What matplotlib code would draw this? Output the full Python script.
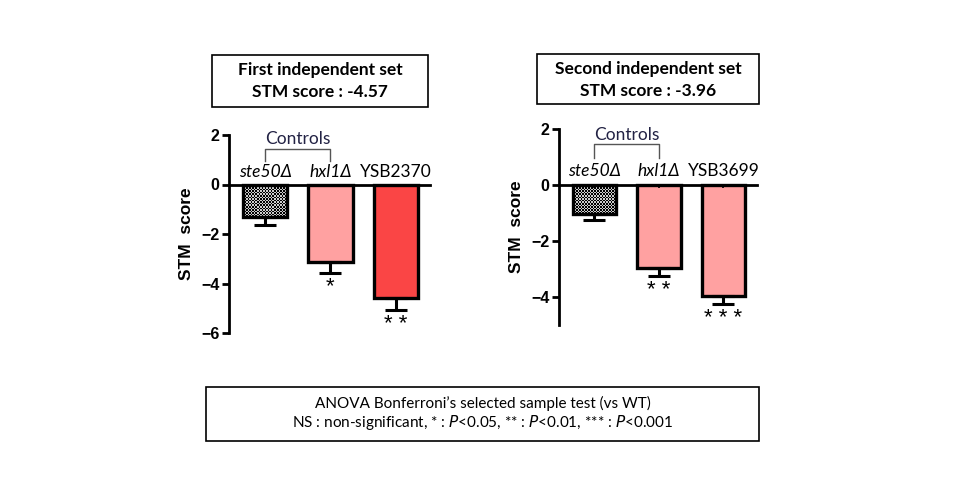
import numpy as np
import matplotlib
matplotlib.use('Agg')
import matplotlib.pyplot as plt
from matplotlib.patches import Rectangle

# ─────────────────────────────────────────
# DATA
# ─────────────────────────────────────────

STRAINS_1 = ['ste50Δ', 'hxl1Δ', 'YSB2370']
SCORES_1 = [-1.33, -3.15, -4.57]
ERRORS_1 = [0.29, 0.41, 0.52]
STARS_1 = ['', '*', '**']

STRAINS_2 = ['ste50Δ', 'hxl1Δ', 'YSB3699']
SCORES_2 = [-1.04, -2.98, -3.96]
ERRORS_2 = [0.20, 0.27, 0.28]
STARS_2 = ['', '**', '***']

ITALIC = [True, True, False]

TITLE_1 = 'First independent set\nSTM score : -4.57'
TITLE_2 = 'Second independent set\nSTM score : -3.96'
FOOTNOTE_1 = 'ANOVA Bonferroni\u2019s selected sample test (vs WT)'

PINK = '#FFA1A1'
RED = '#FA4545'
COLORS_1 = [None, PINK, RED]
COLORS_2 = [None, PINK, PINK]

CAL = 'Lato'
ARIAL = 'Liberation Sans'

W, H = 960, 500
fig = plt.figure(figsize=(W / 100, H / 100), dpi=100)


def px_box(x0, y0, x1, y1):
    # pixel box (top-left origin) -> figure fraction [l, b, w, h]
    return [x0 / W, 1 - y1 / H, (x1 - x0) / W, (y1 - y0) / H]


def checker_fill(ax, x, width, height):
    # GraphPad-style checkerboard fill clipped to the bar
    bar = Rectangle((x - width / 2, 0), width, height, transform=ax.transData)
    p0 = ax.transData.transform((x - width / 2, 0))
    p1 = ax.transData.transform((x + width / 2, height))
    nx = max(2, int(abs(p1[0] - p0[0]) / 1.5))
    ny = max(2, int(abs(p1[1] - p0[1]) / 1.5))
    board = (np.add.outer(np.arange(ny), np.arange(nx)) % 2).astype(float)
    im = ax.imshow(board, cmap='gray', extent=(x - width / 2, x + width / 2, height, 0),
                   aspect='auto', interpolation='nearest', zorder=2, vmin=0, vmax=1.25)
    im.set_clip_path(bar)


def draw_panel(rect, strains, scores, errors, stars, colors, ylim, yticks):
    ax = fig.add_axes(rect)
    x = np.arange(len(strains))
    width = 0.68
    ax.set_xlim(-0.55, 2.52)
    ax.set_ylim(*ylim)

    for xi, val, col in zip(x, scores, colors):
        if col is None:
            checker_fill(ax, xi, width, val)
            ax.bar(xi, val, width, color='none', edgecolor='black', linewidth=2.4, zorder=3)
        else:
            ax.bar(xi, val, width, color=col, edgecolor='black', linewidth=2.4, zorder=3)

    ax.errorbar(x, scores, yerr=[errors, [0] * len(x)], fmt='none', ecolor='black',
                elinewidth=2.2, capsize=8, capthick=2.2, zorder=4)
    # small centre tick under the zero line
    ax.vlines(x, 0, -0.12 * (ylim[1] - ylim[0]) / 8, color='black', lw=1.2, zorder=4)

    for xi, val, err, st in zip(x, scores, errors, stars):
        if st:
            ax.text(xi, val - err - 0.15, ' '.join(st), ha='center', va='top',
                    fontsize=16, family=ARIAL, zorder=5)

    for xi, name, it in zip(x, strains, ITALIC):
        ax.text(xi, 0.2, name, ha='center', va='bottom', fontsize=12.5, family=CAL,
                style='italic' if it else 'normal')

    # "Controls" bracket over the first two strains
    top = 1.45
    ax.plot([x[0], x[0], x[1], x[1]], [0.95, top, top, 0.95], color='#555555', lw=1)
    ax.text((x[0] + x[1]) / 2, top + 0.05, 'Controls', ha='center', va='bottom',
            fontsize=12.5, family=CAL, color='#222244')

    ax.spines['top'].set_visible(False)
    ax.spines['right'].set_visible(False)
    ax.spines['bottom'].set_position(('data', 0))
    ax.spines['bottom'].set_linewidth(2)
    ax.spines['left'].set_linewidth(2)
    ax.spines['bottom'].set_zorder(5)
    ax.set_xticks([])
    ax.set_yticks(yticks)
    ax.tick_params(axis='y', direction='out', length=5, width=2, labelsize=11.5, pad=2)
    for lab in ax.get_yticklabels():
        lab.set_fontweight('bold')
        lab.set_family(ARIAL)
    ax.set_ylabel('STM  score', fontsize=12.5, fontweight='bold', family=ARIAL, labelpad=5)
    ax.patch.set_visible(False)
    return ax


draw_panel(px_box(229, 135, 430, 333), STRAINS_1, SCORES_1, ERRORS_1, STARS_1, COLORS_1,
           (-6, 2), [2, 0, -2, -4, -6])
draw_panel(px_box(559, 129, 757, 325), STRAINS_2, SCORES_2, ERRORS_2, STARS_2, COLORS_2,
           (-5, 2), [2, 0, -2, -4])


def fig_box(x0, y0, x1, y1):
    l, b, w, h = px_box(x0, y0, x1, y1)
    fig.patches.append(Rectangle((l, b), w, h, transform=fig.transFigure,
                                 facecolor='none', edgecolor='black', lw=1.2))


fig_box(212, 55, 428, 107)
fig_box(537, 54, 759, 104)
fig_box(206, 387, 759, 441)

fig.text(320 / W, 1 - 81 / H, TITLE_1, ha='center', va='center', fontsize=12.5,
         fontweight='bold', family=CAL, linespacing=1.45)
fig.text(648 / W, 1 - 80 / H, TITLE_2, ha='center', va='center', fontsize=12.5,
         fontweight='bold', family=CAL, linespacing=1.45)

fig.text(483 / W, 1 - 403 / H, FOOTNOTE_1, ha='center', va='center', fontsize=11, family=CAL)
fig.text(483 / W, 1 - 422 / H,
         r'NS : non-significant, * : $\it{P}$<0.05, ** : $\it{P}$<0.01, *** : $\it{P}$<0.001',
         ha='center', va='center', fontsize=11, family=CAL)

fig.savefig('out.png', dpi=100)
